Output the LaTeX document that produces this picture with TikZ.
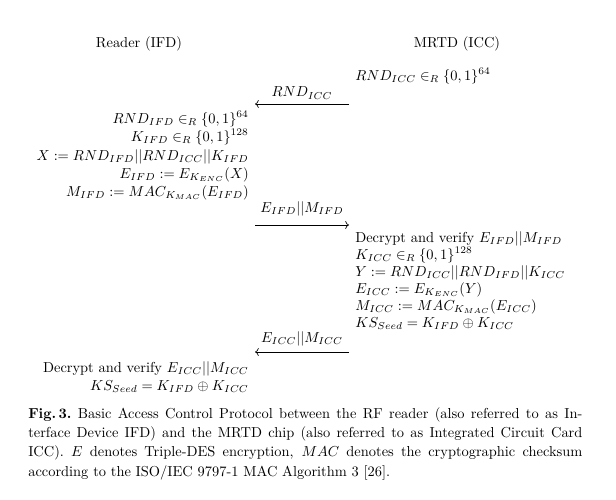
\documentclass[tikz,border=0pt]{standalone}
\usetikzlibrary{arrows.meta}
\begin{document}
\begin{tikzpicture}[x=0.693pt,y=-0.693pt,
  txt/.style={inner sep=0pt, font=\fontsize{10}{12}\selectfont},
  msg/.style={line width=0.45pt, -{Computer Modern Rightarrow}}]
\useasboundingbox (0,0) rectangle (616,500);
% headers
\node[txt] (ifd) at (139,44) {Reader (IFD)};
\node[txt] (icc) at (457,44) {MRTD (ICC)};
% ICC nonce
\node[txt,anchor=mid west] (r0) at (355,77) {$RND_{ICC} \in_R \{0,1\}^{64}$};
% message 1
\coordinate (m1s) at (349,104);
\coordinate (m1e) at (255,104);
\draw[msg] (m1s) -- (m1e);
\node[txt] (m1l) at (302,93) {$RND_{ICC}$};
% reader computations
\node[txt,anchor=mid east] (l1) at (249,120) {$RND_{IFD} \in_R \{0,1\}^{64}$};
\node[txt,anchor=mid east] (l2) at (249,138) {$K_{IFD} \in_R \{0,1\}^{128}$};
\node[txt,anchor=mid east] (l3) at (249,157) {$X := RND_{IFD}||RND_{ICC}||K_{IFD}$};
\node[txt,anchor=mid east] (l4) at (249,175) {$E_{IFD} := E_{K_{ENC}}(X)$};
\node[txt,anchor=mid east] (l5) at (249,193) {$M_{IFD} := MAC_{K_{MAC}}(E_{IFD})$};
% message 2
\coordinate (m2s) at (255,225);
\coordinate (m2e) at (349,225);
\draw[msg] (m2s) -- (m2e);
\node[txt] (m2l) at (302,209) {$E_{IFD}||M_{IFD}$};
% chip computations
\node[txt,anchor=mid west] (c1) at (355,239) {Decrypt and verify $E_{IFD}||M_{IFD}$};
\node[txt,anchor=mid west] (c2) at (355,256) {$K_{ICC} \in_R \{0,1\}^{128}$};
\node[txt,anchor=mid west] (c3) at (355,273) {$Y := RND_{ICC}||RND_{IFD}||K_{ICC}$};
\node[txt,anchor=mid west] (c4) at (355,290) {$E_{ICC} := E_{K_{ENC}}(Y)$};
\node[txt,anchor=mid west] (c5) at (355,307) {$M_{ICC} := MAC_{K_{MAC}}(E_{ICC})$};
\node[txt,anchor=mid west] (c6) at (355,324) {$KS_{Seed} = K_{IFD} \oplus K_{ICC}$};
% message 3
\coordinate (m3s) at (349,352);
\coordinate (m3e) at (255,352);
\draw[msg] (m3s) -- (m3e);
\node[txt] (m3l) at (302,339) {$E_{ICC}||M_{ICC}$};
% reader final
\node[txt,anchor=mid east] (f1) at (249,369) {Decrypt and verify $E_{ICC}||M_{ICC}$};
\node[txt,anchor=mid east] (f2) at (249,387) {$KS_{Seed} = K_{IFD} \oplus K_{ICC}$};
% caption
\node[inner sep=0pt, anchor=north west, text width=384pt, align=justify,
  font=\fontsize{10}{13.4}\selectfont] (cap) at (28,407)
 {\textbf{Fig.\,3.}\ Basic Access Control Protocol between the RF reader (also referred to as In-\linebreak
 terface Device IFD) and the MRTD chip (also referred to as Integrated Circuit Card\linebreak
 ICC). $E$ denotes Triple-DES encryption, $MAC$ denotes the cryptographic checksum\linebreak
 according to the ISO/IEC 9797-1 MAC Algorithm 3 [26].};
\end{tikzpicture}
\end{document}
